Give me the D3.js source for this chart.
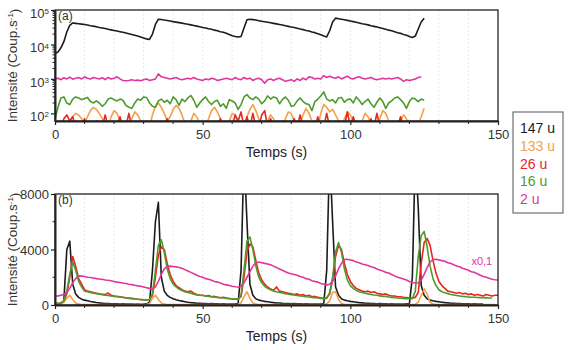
<!DOCTYPE html>
<html><head><meta charset="utf-8">
<script src="https://cdn.jsdelivr.net/npm/d3@7"></script>
<style>
html,body{margin:0;padding:0;background:#fff;}
text{font-family:"Liberation Sans",Arial,sans-serif;}
</style></head>
<body>
<svg id="c" width="568" height="350"></svg>
<script>
// ---------- DATA ----------
const seriesNames = ["147 u","133 u","26 u","16 u","2 u"];
const seriesColors = ["#1c1c1c","#f4a04a","#e8251e","#4f9a2c","#e0369c"];
const xTicks = [0,50,100,150];
const topYTicks = [100,1000,10000,100000];
const botYTicks = [0,4000,8000];

// Panel (a): 1 value per second, t = 0..125
const topBlack = [5500,6000,8000,12000,23000,36000,42000,41000,40000,39000,38000,36500,35000,34000,32500,31000,30000,29000,27500,26500,25500,24500,23500,22500,21500,20500,19500,18500,17500,16500,15500,14500,14000,20000,38000,54000,53000,51000,49500,48000,46000,44500,43000,41500,40000,38500,37000,35500,34000,32500,31000,30000,28500,27500,26000,25000,23500,22500,21000,19500,18000,17000,16500,17000,30000,52000,54000,52500,51000,49000,47000,45500,44000,42500,41000,39500,38000,36500,35000,33500,32000,31000,29500,28000,27000,25500,24500,23000,22000,20500,19000,17500,16500,25000,45000,58000,56000,54000,52000,50000,48000,46000,44000,42000,40000,38500,37000,35000,33500,32000,30500,29000,27500,26000,25000,23500,22000,21000,19500,18500,17000,16000,17500,28000,45000,58000];
const topOrange = [40,40,40,40,40,60,80,100,90,70,50,80,120,150,130,100,70,50,40,80,120,100,60,40,40,40,70,110,90,60,40,40,40,90,160,200,150,100,60,80,130,170,140,90,50,40,60,100,80,50,40,40,70,120,150,110,70,40,40,60,100,90,50,40,40,80,130,180,120,70,40,40,60,90,70,40,40,40,70,110,100,60,40,50,90,140,100,60,40,40,100,180,150,110,130,90,60,40,70,110,90,60,40,40,60,100,80,50,40,40,70,120,100,60,40,40,40,60,90,70,40,40,40,50,80,140];
const topRed = [40,40,40,70,90,60,80,40,40,40,70,40,40,40,60,40,40,90,40,40,40,40,80,40,40,100,40,40,40,40,40,60,40,40,40,40,40,40,70,40,40,40,40,40,40,50,40,40,40,40,40,40,40,40,40,40,70,40,40,40,40,90,60,110,40,80,40,100,40,40,90,120,40,70,40,40,40,60,40,40,40,70,40,90,40,40,40,40,40,80,40,40,100,40,40,40,60,40,40,110,40,80,40,40,40,40,40,70,40,100,40,40,40,40,40,40,40,80,40,40,40,40,40,40,40,40];
const topGreen = [70,150,280,300,200,180,260,300,280,250,270,290,220,200,230,200,160,190,260,280,250,230,260,240,170,150,140,200,260,240,300,290,200,160,150,230,260,210,240,190,300,250,170,260,220,280,330,240,150,200,250,300,220,180,220,240,160,190,140,250,230,200,130,180,300,350,280,250,300,260,190,230,320,260,300,280,190,250,300,240,160,170,230,280,220,190,180,120,220,260,320,420,260,230,250,200,280,290,210,250,260,200,300,240,180,220,260,190,150,210,280,220,140,200,230,280,300,250,200,140,220,280,260,220,260,240];
const topMagenta = [1000,1050,950,1080,1000,1120,980,1050,1100,1000,1150,1050,1000,1100,1050,1000,1080,950,1100,1000,1050,1150,1000,900,880,900,950,900,920,880,950,1000,900,950,1000,1400,1150,1100,1050,1000,1050,1100,1000,950,1000,1050,1000,1100,1000,950,900,1000,950,1050,1000,900,950,1000,1050,1000,950,1100,1000,950,1100,1000,1050,900,1000,1050,950,750,950,1000,900,1000,1050,950,850,900,950,850,1000,900,1050,950,1150,1100,1000,1050,1000,1250,1100,1200,1100,1050,1150,1000,1100,1200,1050,1000,1100,1150,1050,1000,1050,1100,1000,950,1000,1050,1000,1050,1000,1050,1100,1000,850,950,900,950,1000,1100,1150];

// Panel (b): 1 value per second, t = 0..150
const botBlack = [30,30,50,300,4000,4600,1500,800,550,420,350,300,250,220,180,150,130,110,100,90,80,90,70,80,60,70,60,50,60,50,60,80,200,2500,6000,7400,2000,1000,700,550,450,380,320,280,240,200,170,150,130,120,100,110,90,100,80,90,70,80,70,60,70,80,100,2500,11000,6000,1500,700,450,350,300,260,230,200,170,150,140,120,110,100,90,100,80,90,70,80,70,60,70,60,70,100,2500,11000,6000,1300,700,450,350,300,260,230,200,170,150,130,120,110,100,90,100,80,90,70,80,70,60,70,60,80,100,2000,11000,7000,1400,700,450,350,300,260,230,200,170,150,130,120,110,100,90,80,90,70,80,70,60,60];
const botOrange = [30,30,40,200,500,700,400,150,60,40,30,30,30,30,30,30,30,30,30,30,30,30,30,30,30,30,30,30,30,30,30,40,100,500,700,400,150,60,40,30,30,30,30,30,30,30,30,30,30,30,30,30,30,30,30,30,30,30,30,30,30,30,50,150,600,950,500,150,60,40,30,30,30,30,30,30,30,30,30,30,30,30,30,30,30,30,30,30,30,30,30,40,80,300,900,950,400,100,50,30,30,30,30,30,30,30,30,30,30,30,30,30,30,30,30,30,30,30,30,30,30,30,60,200,700,1150,800,200,60,40,30,30,30,30,30,30,30,30,30,30,30,30,30,30,30,30,30,30,30,30];
const botRed = [100,100,150,300,800,2000,3500,2800,1900,1500,1100,1000,950,900,850,800,780,750,860,700,650,620,600,560,520,500,480,450,420,400,380,380,400,700,2000,3600,4200,4000,3000,2200,1700,1400,1250,1100,1000,950,1000,850,750,720,700,650,680,600,620,560,520,560,500,470,450,420,440,600,2000,3800,4400,4200,3200,2300,1800,1500,1300,1150,1050,1300,1000,950,900,850,800,750,800,700,750,650,700,600,620,560,520,500,520,800,1800,3500,4300,4000,3000,2200,1700,1400,1200,1100,1000,950,1000,900,950,850,800,750,800,700,650,650,600,600,560,530,500,500,550,900,3000,4500,4800,4300,3200,2300,1700,1400,1200,1000,950,900,850,900,800,850,750,800,700,750,700,650,750,700,650,700,700];
const botGreen = [120,120,150,300,1000,2200,3100,2500,1700,1300,1000,950,900,850,820,780,740,700,680,650,620,600,580,540,500,480,450,430,410,390,370,350,400,800,2500,4300,4700,3800,2600,1900,1500,1300,1150,1050,950,900,850,780,730,700,680,650,620,600,580,550,520,500,480,460,440,420,420,700,2500,4600,4900,4000,2800,2000,1600,1350,1200,1100,1000,950,900,860,820,780,740,720,680,650,640,600,580,550,530,500,480,460,480,900,2000,3800,4500,3800,2600,1800,1400,1200,1050,950,900,850,800,760,720,700,660,620,620,580,550,520,500,490,470,460,450,460,1000,3500,5000,5300,4200,2800,1900,1400,1100,960,880,820,760,720,680,650,620,600,580,560,560,540,530,520,510,500,500];
const botMagenta = [650,650,700,750,900,1200,1600,1900,2100,2080,2050,2000,1980,1950,1900,1870,1850,1800,1780,1750,1700,1650,1620,1580,1550,1500,1470,1420,1380,1350,1300,1250,1200,1180,1300,1700,2200,2600,2780,2800,2780,2750,2700,2650,2550,2450,2350,2250,2150,2050,2000,1900,1850,1780,1700,1650,1580,1500,1450,1400,1350,1320,1300,1350,1600,2000,2400,2800,3050,3100,3050,3000,2950,2900,2800,2700,2600,2500,2400,2300,2250,2200,2150,2050,2000,1900,1850,1750,1700,1650,1550,1500,1450,1500,1700,2100,2600,3000,3280,3300,3250,3200,3100,3050,2950,2900,2850,2750,2700,2600,2520,2450,2350,2300,2200,2100,2000,1950,1880,1800,1700,1620,1580,1600,1800,2200,2700,3100,3280,3300,3250,3200,3150,3050,3000,2900,2800,2750,2650,2580,2500,2400,2350,2250,2150,2050,2000,1920,1850,1820,1800];

const topSeries = [topBlack, topOrange, topRed, topGreen, topMagenta];
const botSeries = [botBlack, botOrange, botRed, botGreen, botMagenta];

// ---------- DRAW ----------
const svg = d3.select("#c");
const L = 55, R = 498;
const x = d3.scaleLinear().domain([0,150]).range([L,R]);
const yTop = d3.scaleLog().domain([60,100000]).range([121,10]);
const yBot = d3.scaleLinear().domain([0,8000]).range([305,194]);

function panel(y, series, id, yTicksMajor, minorY, label, isLog) {
  const [y0, y1] = y.range();
  const g = svg.append("g");
  g.selectAll("line.grid").data(d3.range(10,150,10)).join("line")
    .attr("x1", d => x(d)).attr("x2", d => x(d))
    .attr("y1", y1).attr("y2", y0)
    .attr("stroke", "#e2e2e2").attr("stroke-width", 0.8)
    .attr("stroke-dasharray", "2,2");
  svg.append("clipPath").attr("id", id).append("rect")
    .attr("x", L).attr("y", y1).attr("width", R-L).attr("height", y0-y1);
  const lg = g.append("g").attr("clip-path", `url(#${id})`);
  series.forEach((arr, i) => {
    const line = d3.line().x((d, k) => x(k)).y(d => y(d));
    lg.append("path").datum(arr).attr("d", line)
      .attr("fill", "none").attr("stroke", seriesColors[i])
      .attr("stroke-width", 1.6).attr("stroke-linejoin", "round");
  });
  g.append("rect").attr("x", L).attr("y", y1).attr("width", R-L).attr("height", y0-y1)
    .attr("fill", "none").attr("stroke", "#222").attr("stroke-width", 1.3);
  const xa = g.append("g").attr("transform", `translate(0,${y0})`)
    .call(d3.axisBottom(x).tickValues(xTicks).tickSize(4).tickSizeOuter(0).tickPadding(5));
  xa.append("g").selectAll("line").data(d3.range(10,150,10).filter(v => v % 50)).join("line")
    .attr("x1", d => x(d)).attr("x2", d => x(d)).attr("y1", 0).attr("y2", 3)
    .attr("stroke", "#222");
  xa.select(".domain").attr("stroke", "#222").attr("stroke-width", 2);
  xa.selectAll(".tick line").attr("stroke", "#222").attr("stroke-width", 1.2);
  xa.selectAll("text").attr("font-size", 13).attr("fill", "#333");
  const ya = g.append("g").attr("transform", `translate(${L},0)`)
    .call(d3.axisLeft(y).tickValues(yTicksMajor).tickSize(4).tickSizeOuter(0).tickPadding(3).tickFormat(""));
  ya.select(".domain").attr("stroke", "#222").attr("stroke-width", 2);
  ya.selectAll(".tick line").attr("stroke", "#222").attr("stroke-width", 1.2);
  ya.append("g").selectAll("line").data(minorY).join("line")
    .attr("x1", 0).attr("x2", -2.5).attr("y1", d => y(d)).attr("y2", d => y(d))
    .attr("stroke", "#222").attr("stroke-width", 1);
  const lab = ya.selectAll(".tick").append("text")
    .attr("x", -6).attr("dy", "0.35em").attr("text-anchor", "end")
    .attr("font-size", 13).attr("fill", "#333");
  if (isLog) {
    lab.each(function(d) {
      const t = d3.select(this);
      t.append("tspan").text("10");
      t.append("tspan").attr("dy", "-0.45em").attr("font-size", 8).text(Math.round(Math.log10(d)));
    }).attr("dy", "0.55em");
  } else {
    lab.text(d => d);
  }
  g.append("text").attr("x", L+3).attr("y", y1+10).attr("font-size", 12).attr("fill", "#333").text(label);
  g.append("text").attr("x", (L+R)/2).attr("y", y0+36).attr("text-anchor", "middle")
    .attr("font-size", 14).attr("fill", "#222").text("Temps (s)");
  const yt = g.append("text").attr("transform", `translate(17,${(y0+y1)/2}) rotate(-90)`)
    .attr("text-anchor", "middle").attr("font-size", 13.5).attr("fill", "#333");
  yt.append("tspan").text("Intensité (Coup.s");
  yt.append("tspan").attr("dy", "-0.45em").attr("font-size", 8).text("-1");
  yt.append("tspan").attr("dy", "0.45em").text(")");
  return g;
}

const minorLog = [];
[100,1000,10000].forEach(b => { for (let m = 2; m <= 9; m++) minorLog.push(b*m); });
panel(yTop, topSeries, "clipA", topYTicks, minorLog, "(a)", true);
const gb = panel(yBot, botSeries, "clipB", botYTicks, [2000,6000], "(b)", false);
gb.append("text").attr("x", x(141)).attr("y", yBot(2900)).attr("font-size", 11)
  .attr("fill", seriesColors[4]).text("x0,1");

const lgd = svg.append("g");
lgd.append("rect").attr("x", 513).attr("y", 112).attr("width", 50).attr("height", 101)
  .attr("fill", "#fff").attr("stroke", "#555").attr("stroke-width", 1);
seriesNames.forEach((n, i) => {
  lgd.append("text").attr("x", 520).attr("y", 133 + i*17.8).attr("font-size", 14)
    .attr("fill", seriesColors[i]).text(n);
});
</script>
</body></html>
